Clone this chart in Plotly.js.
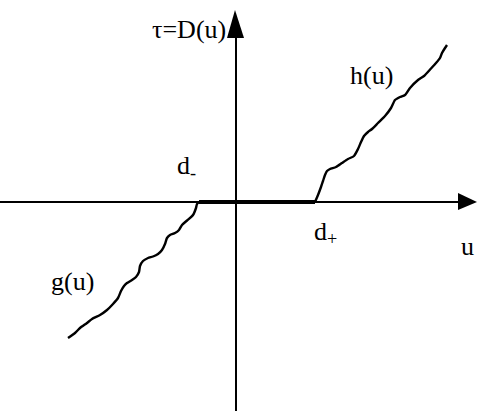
<!DOCTYPE html>
<html>
<head>
<meta charset="utf-8">
<script src="https://cdn.plot.ly/plotly-3.0.1.min.js"></script>
<style>
  html, body { margin: 0; padding: 0; background: #ffffff; }
  #chart { width: 478px; height: 411px; }
</style>
</head>
<body>
<div id="chart"></div>
<script>
// Dead-zone characteristic tau = D(u): zero between d- and d+,
// rough increasing branches g(u) on the left and h(u) on the right.
const dMinus = -37;
const dPlus = 79;

const gU   = [-168, -161, -156, -149, -144, -136, -129, -123, -118, -115, -112, -109, -104, -100, -97, -96, -93, -88, -83, -78, -74, -71, -69, -66, -61, -57, -54, -49, -43, -40, -39, -37];
const gTau = [-136, -131, -126, -121, -117, -113, -108, -102, -96, -89, -84, -81, -78, -75, -70, -64, -59, -56, -54.5, -52, -48, -42, -36, -33, -31, -28, -23, -18.5, -13, -6, -2, 0];

const hU   = [79, 82, 85, 87, 89, 91, 94, 100, 106, 112, 118, 122, 125, 128, 132, 136, 142, 149, 155, 159, 164, 169, 174, 182, 188, 195, 200, 204, 206, 209, 211];
const hTau = [0, 7, 15, 21, 27, 31, 33, 35, 39, 43, 46, 53, 60, 66, 70, 73, 79, 86, 94, 102, 105, 107, 114, 122, 126, 133.5, 139, 144, 149, 154, 157];

const zeroU   = [dMinus, dPlus];
const zeroTau = [0, 0];

// axis extents
const uMin = -236, uMax = 242, tauMin = -209, tauMax = 202;
const uArrowBase = 222, uArrowTip = 241;
const tauArrowBase = 164, tauArrowTip = 192;

const labelFont = { family: '"Liberation Serif", "Times New Roman", serif', size: 26, color: '#000' };

const traces = [
  { x: gU, y: gTau, mode: 'lines', line: { color: '#000', width: 2.4, shape: 'spline', smoothing: 0.6 }, hoverinfo: 'skip' },
  { x: hU, y: hTau, mode: 'lines', line: { color: '#000', width: 2.4, shape: 'spline', smoothing: 0.6 }, hoverinfo: 'skip' },
  { x: zeroU, y: zeroTau, mode: 'lines', line: { color: '#000', width: 4 }, hoverinfo: 'skip' }
];

const shapes = [
  // horizontal u axis
  { type: 'line', xref: 'x', yref: 'y', x0: uMin, x1: uArrowBase + 2, y0: 0, y1: 0, line: { color: '#000', width: 2 } },
  { type: 'path', xref: 'x', yref: 'y', path: `M ${uArrowBase},9 L ${uArrowTip},0 L ${uArrowBase},-8 Z`, fillcolor: '#000', line: { width: 0 } },
  // vertical tau axis
  { type: 'line', xref: 'x', yref: 'y', x0: 0, x1: 0, y0: tauMin, y1: tauArrowBase + 2, line: { color: '#000', width: 2 } },
  { type: 'path', xref: 'x', yref: 'y', path: `M -9,${tauArrowBase} L -1,${tauArrowTip} L 8,${tauArrowBase} Z`, fillcolor: '#000', line: { width: 0 } }
];

const annotations = [
  { x: -8, y: 173, text: 'τ=D(u)', xanchor: 'right', yanchor: 'middle' },
  { x: 135, y: 127, text: 'h(u)', xanchor: 'center', yanchor: 'middle' },
  { x: -61, y: 35, text: 'd<sub>-</sub>', xanchor: 'left', yanchor: 'middle' },
  { x: 76, y: -31, text: 'd<sub>+</sub>', xanchor: 'left', yanchor: 'middle' },
  { x: 231, y: -44, text: 'u', xanchor: 'center', yanchor: 'middle' },
  { x: -164, y: -79, text: 'g(u)', xanchor: 'center', yanchor: 'middle' }
].map(a => Object.assign({ xref: 'x', yref: 'y', showarrow: false, font: labelFont }, a));

const layout = {
  width: 478,
  height: 411,
  margin: { l: 0, r: 0, t: 0, b: 0 },
  paper_bgcolor: '#ffffff',
  plot_bgcolor: '#ffffff',
  showlegend: false,
  xaxis: { range: [uMin, uMax], visible: false, fixedrange: true },
  yaxis: { range: [tauMin, tauMax], visible: false, fixedrange: true },
  shapes: shapes,
  annotations: annotations
};

Plotly.newPlot('chart', traces, layout, { staticPlot: true, displayModeBar: false });
</script>
</body>
</html>
